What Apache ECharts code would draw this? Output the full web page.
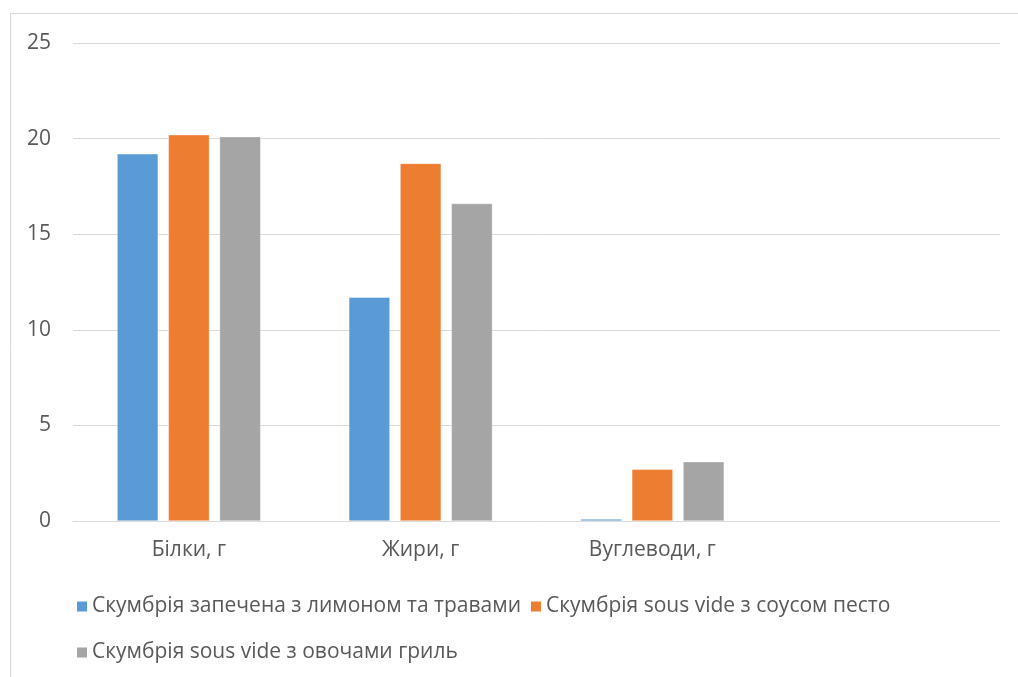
<!DOCTYPE html>
<html><head><meta charset="utf-8">
<script src="https://cdn.jsdelivr.net/npm/echarts@6/dist/echarts.min.js"></script>
<style>html,body{margin:0;padding:0;background:#fff}#c{width:1018px;height:677px}</style>
</head><body><div id="c"></div>
<script>
const categories = ['Білки, г', 'Жири, г', 'Вуглеводи, г', ''];
const seriesNames = ['Скумбрія запечена з лимоном та травами', 'Скумбрія sous vide з соусом песто', 'Скумбрія sous vide з овочами гриль'];
const baked = [19.2, 11.7, 0.1, null];
const pesto = [20.2, 18.7, 2.7, null];
const grill = [20.1, 16.6, 3.1, null];
const yTicks = [0, 5, 10, 15, 20, 25];
const colors = ['#5b9bd5', '#ed7d31', '#a5a5a5'];

const font = '"Open Sans", "Noto Sans", sans-serif';
const chart = echarts.init(document.getElementById('c'));
const mk = (name, data, i) => ({
  name, type: 'bar', data, barWidth: 41, barGap: '25%',
  itemStyle: { color: colors[i], borderColor: '#fff', borderWidth: 0.4 }
});
const legendText = { color: '#595959', fontSize: 21, fontFamily: font, padding: [0, 0, 0, -1] };
chart.setOption({
  animation: false,
  graphic: [{ type: 'rect', shape: { x: 10.5, y: 13.5, width: 1030, height: 700 }, style: { fill: 'none', stroke: '#d9d9d9', lineWidth: 1 }, silent: true }],
  grid: { left: 73, right: 18, top: 43, bottom: 156 },
  xAxis: {
    type: 'category', data: categories,
    axisLine: { lineStyle: { color: '#d9d9d9', width: 1 } },
    axisTick: { show: false },
    axisLabel: { color: '#595959', fontSize: 21, fontFamily: font, margin: 19 }
  },
  yAxis: {
    type: 'value', min: yTicks[0], max: yTicks[yTicks.length - 1], interval: 5,
    axisLine: { show: false }, axisTick: { show: false },
    splitLine: { lineStyle: { color: '#d9d9d9', width: 1 } },
    axisLabel: { color: '#595959', fontSize: 21, fontFamily: font, margin: 22 }
  },
  legend: [
    { data: seriesNames.slice(0, 2), left: 70, top: 591, itemWidth: 12, itemHeight: 12, itemGap: 8, icon: 'rect', textStyle: legendText },
    { data: seriesNames.slice(2), left: 70, top: 637, itemWidth: 12, itemHeight: 12, itemGap: 8, icon: 'rect', textStyle: legendText }
  ],
  series: [mk(seriesNames[0], baked, 0), mk(seriesNames[1], pesto, 1), mk(seriesNames[2], grill, 2)]
});
</script></body></html>
